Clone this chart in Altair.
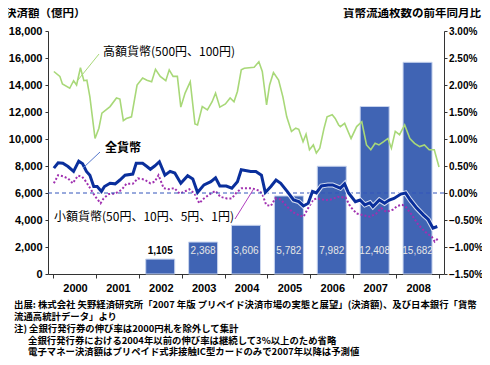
import altair as alt
import pandas as pd

# ---------------- data ----------------
years = [2002, 2003, 2004, 2005, 2006, 2007, 2008]
settlement = [1105, 2368, 3606, 5782, 7982, 12408, 15682]  # 決済額(億円)

high_t = [2000.02, 2000.16, 2000.22, 2000.39, 2000.48, 2000.55, 2000.64, 2000.72, 2000.79, 2000.86,
          2000.98, 2001.07, 2001.14, 2001.33, 2001.48, 2001.56, 2001.64, 2001.71, 2001.83, 2001.96,
          2002.09, 2002.19, 2002.30, 2002.39, 2002.50, 2002.63, 2002.71, 2002.80, 2002.90, 2002.98,
          2003.08, 2003.20, 2003.31, 2003.37, 2003.48, 2003.60, 2003.71, 2003.79, 2003.89, 2004.02,
          2004.13, 2004.22, 2004.30, 2004.39, 2004.46, 2004.69, 2004.80, 2004.88, 2004.98, 2005.05,
          2005.14, 2005.26, 2005.36, 2005.45, 2005.56, 2005.66, 2005.73, 2005.83, 2005.90, 2005.98,
          2006.07, 2006.14, 2006.22, 2006.32, 2006.39, 2006.51, 2006.58, 2006.66, 2006.70, 2006.80,
          2006.95, 2007.08, 2007.20, 2007.31, 2007.41, 2007.51, 2007.60, 2007.71, 2007.81, 2007.89,
          2007.98, 2008.08, 2008.20, 2008.32, 2008.43, 2008.55, 2008.66, 2008.77, 2008.89, 2009.00]
high_v = [2.25, 2.16, 2.02, 1.94, 2.08, 2.00, 2.32, 2.08, 2.09, 1.78,
          1.01, 1.20, 1.48, 1.60, 1.76, 1.74, 1.34, 1.38, 1.41, 2.00,
          2.13, 2.09, 2.06, 2.29, 2.16, 2.08, 2.28, 2.16, 2.16, 1.59,
          1.85, 2.06, 1.28, 1.26, 1.60, 1.54, 1.69, 1.85, 1.59, 1.65,
          1.76, 1.69, 1.88, 2.28, 2.31, 2.33, 2.43, 2.25, 1.63, 2.00,
          2.23, 2.09, 1.78, 1.41, 1.14, 1.20, 1.18, 0.95, 1.09, 0.80,
          0.89, 0.74, 0.83, 1.20, 1.41, 1.45, 1.38, 1.26, 1.23, 1.29,
          1.01, 1.23, 1.32, 0.89, 0.80, 0.92, 0.89, 0.95, 1.01, 0.83,
          1.14, 1.08, 1.26, 1.01, 0.92, 0.86, 0.89, 0.80, 0.80, 0.48]

all_t = [2000.02, 2000.12, 2000.23, 2000.35, 2000.48, 2000.60, 2000.69, 2000.78, 2000.86, 2000.95,
         2001.03, 2001.13, 2001.20, 2001.33, 2001.45, 2001.56, 2001.68, 2001.86, 2001.94, 2002.09,
         2002.19, 2002.27, 2002.37, 2002.48, 2002.61, 2002.73, 2002.84, 2002.98, 2003.14, 2003.26,
         2003.37, 2003.52, 2003.68, 2003.79, 2003.89, 2004.04, 2004.17, 2004.30, 2004.39, 2004.61,
         2004.73, 2004.86, 2004.95, 2005.08, 2005.20, 2005.31, 2005.46, 2005.61, 2005.73, 2005.84,
         2005.95, 2006.05, 2006.14, 2006.26, 2006.41, 2006.52, 2006.64, 2006.70, 2006.80, 2006.89,
         2007.05, 2007.16, 2007.27, 2007.39, 2007.46, 2007.61, 2007.73, 2007.84, 2007.95, 2008.11,
         2008.22, 2008.33, 2008.48, 2008.64, 2008.75, 2008.86, 2008.96]
all_v = [0.46, 0.56, 0.55, 0.49, 0.40, 0.59, 0.54, 0.40, 0.33, 0.12,
         0.12, 0.03, 0.12, 0.18, 0.17, 0.24, 0.33, 0.35, 0.55, 0.55,
         0.49, 0.44, 0.50, 0.58, 0.33, 0.40, 0.37, 0.18, 0.32, 0.26,
         0.01, 0.15, 0.21, 0.28, 0.13, 0.13, 0.09, 0.21, 0.43, 0.40,
         0.40, 0.33, 0.01, 0.12, 0.24, 0.18, 0.03, -0.13, -0.16, -0.24,
         -0.19, 0.03, 0.00, 0.13, 0.15, 0.15, 0.11, 0.09, 0.17, 0.00,
         -0.16, -0.13, -0.22, -0.18, -0.25, -0.13, -0.19, -0.13, -0.10, -0.02,
         0.00, -0.13, -0.28, -0.41, -0.49, -0.65, -0.62]

small_t = [2000.02, 2000.12, 2000.23, 2000.35, 2000.46, 2000.58, 2000.68, 2000.77, 2000.88, 2000.99,
           2001.11, 2001.18, 2001.30, 2001.45, 2001.60, 2001.71, 2001.86, 2001.98, 2002.13, 2002.27,
           2002.37, 2002.46, 2002.58, 2002.69, 2002.83, 2002.95, 2003.05, 2003.18, 2003.30, 2003.41,
           2003.52, 2003.68, 2003.79, 2003.90, 2004.05, 2004.17, 2004.28, 2004.40, 2004.63, 2004.82,
           2004.89, 2004.97, 2005.08, 2005.18, 2005.31, 2005.42, 2005.58, 2005.73, 2005.84, 2005.95,
           2006.07, 2006.18, 2006.33, 2006.48, 2006.64, 2006.70, 2006.82, 2006.93, 2007.08, 2007.23,
           2007.39, 2007.54, 2007.65, 2007.77, 2007.92, 2008.03, 2008.14, 2008.22, 2008.37, 2008.52,
           2008.68, 2008.83, 2008.90, 2008.98]
small_v = [0.18, 0.33, 0.31, 0.27, 0.18, 0.32, 0.30, 0.21, 0.07, -0.07,
           -0.19, -0.10, -0.02, -0.01, 0.06, 0.17, 0.17, 0.27, 0.25, 0.18,
           0.21, 0.33, 0.09, 0.07, 0.09, -0.01, 0.02, 0.07, -0.01, -0.19,
           -0.10, -0.01, 0.04, -0.07, -0.10, -0.10, 0.01, 0.09, 0.09, 0.04,
           -0.04, -0.22, -0.24, -0.10, -0.12, -0.22, -0.35, -0.41, -0.44, -0.28,
           -0.12, -0.10, -0.13, -0.12, -0.07, -0.08, -0.08, -0.25, -0.38, -0.41,
           -0.44, -0.38, -0.28, -0.35, -0.31, -0.24, -0.22, -0.25, -0.41, -0.59,
           -0.72, -0.81, -0.90, -0.84]

year_ticks = list(range(2000, 2010))
left_ticks = list(range(0, 18001, 2000))
right_ticks = [-1.5, -1.0, -0.5, 0.0, 0.5, 1.0, 1.5, 2.0, 2.5, 3.0]

title_left = "決済額（億円）"
title_right = "貨幣流通枚数の前年同月比"
ann_high = "高額貨幣(500円、100円)"
ann_all = "全貨幣"
ann_small = "小額貨幣(50円、10円、5円、1円)"
notes = [
    "出展: 株式会社 矢野経済研究所「2007 年版 プリペイド決済市場の実態と展望」(決済額)、及び日本銀行「貨幣",
    "流通高統計データ」より",
    "注) 全銀行発行券の伸び率は2000円札を除外して集計",
    "全銀行発行券における2004年以前の伸び率は継続して3%以上のため省略",
    "電子マネー決済額はプリペイド式非接触IC型カードのみで2007年以降は予測値",
]

# ---------------- chart ----------------
JP = "Noto Sans CJK JP"
NUM = "Liberation Sans"

X_SCALE = alt.Scale(domain=[2000, 2009], nice=False, zero=False)
LEFT = alt.Scale(domain=[0, 18000], nice=False, zero=False)
RIGHT = alt.Scale(domain=[-1.5, 3.0], nice=False, zero=False)

bars_df = pd.DataFrame({"year": years, "amount": settlement})
bars_df["xc"] = bars_df["year"] + 0.5
bars_df["label"] = [f"{v:,}" for v in settlement]

high_df = pd.DataFrame({"t": high_t, "v": high_v})
all_df = pd.DataFrame({"t": all_t, "v": all_v})
small_df = pd.DataFrame({"t": small_t, "v": small_v})

x_axis = alt.Axis(values=year_ticks, labelExpr="datum.value >= 2009 ? '' : '' + datum.value",
                  labelOffset=22, tickSize=4, labelPadding=4, labelFont=NUM, labelFontSize=11,
                  labelFontWeight="bold", labelColor="black", domainColor="#333", tickColor="#333",
                  grid=False, title=None, labelFlush=False, labelOverlap=False, labelBound=False)
left_axis = alt.Axis(values=left_ticks, labelExpr="format(datum.value, ',')", orient="left",
                     tickSize=3, labelPadding=3, labelOverlap=False,
                     labelFont=NUM, labelFontSize=11, labelFontWeight="bold", labelColor="black",
                     domainColor="#333", tickColor="#333", grid=False, title=None)
right_axis = alt.Axis(values=right_ticks, labelExpr="format(datum.value, '.2f') + '%'", orient="right",
                      tickSize=3, labelPadding=1.5, labelOverlap=False, labelFont=NUM, labelFontSize=10,
                      labelFontWeight="bold", labelColor="black", domainColor="#333", tickColor="#333",
                      grid=False, title=None)

X_T = alt.X("t:Q", scale=X_SCALE, axis=x_axis)
Y_V = alt.Y("v:Q", scale=RIGHT, axis=right_axis)

one = pd.DataFrame({"a": [0]})


def label(txt, x, y, size=12, weight="normal", align="left", color="black", font=JP):
    return alt.Chart(one).mark_text(text=txt, align=align, baseline="middle", fontSize=size,
                                    fontWeight=weight, color=color, font=font).encode(
        x=alt.value(x), y=alt.value(y))


def leader(x1, y1, x2, y2, color):
    return alt.Chart(one).mark_rule(color=color, strokeWidth=1).encode(
        x=alt.value(x1), y=alt.value(y1), x2=alt.value(x2), y2=alt.value(y2))


bars = alt.Chart(bars_df).mark_bar(size=29, color="#4064B4", stroke="#C8D4EE", strokeWidth=1).encode(
    x=alt.X("xc:Q", scale=X_SCALE, axis=x_axis),
    y=alt.Y("amount:Q", scale=LEFT, axis=left_axis),
)
LABEL_LEVEL = 1700
label_base = alt.Chart(bars_df).encode(
    x=alt.X("xc:Q", scale=X_SCALE, axis=x_axis),
    y=alt.Y(datum=LABEL_LEVEL, type="quantitative", scale=LEFT, axis=left_axis),
    text="label:N",
)
labels_out = label_base.transform_filter(f"datum.amount < {LABEL_LEVEL}").mark_text(
    font=NUM, fontSize=10, fontWeight="bold", color="black", baseline="middle")
labels_in = label_base.transform_filter(f"datum.amount >= {LABEL_LEVEL}").mark_text(
    font=NUM, fontSize=10, color="#E6E6E6", baseline="middle")

left_layer = alt.layer(bars, labels_out, labels_in)

small_line = alt.Chart(small_df).mark_line(color="#A030B0", strokeWidth=2, strokeDash=[2, 2]).encode(
    x=X_T, y=Y_V)
zero_rule = alt.Chart(one).mark_rule(color="#3355BB", strokeDash=[4, 3], strokeWidth=1).encode(
    y=alt.Y(datum=0, type="quantitative", scale=RIGHT, axis=right_axis))
all_halo = alt.Chart(all_df).mark_line(color="white", strokeWidth=5, opacity=0.8).encode(x=X_T, y=Y_V)
all_line = alt.Chart(all_df).mark_line(color="#0A2F9C", strokeWidth=3).encode(x=X_T, y=Y_V)
high_line = alt.Chart(high_df).mark_line(color="#A8D878", strokeWidth=1.6).encode(x=X_T, y=Y_V)

right_layer = alt.layer(small_line, zero_rule, all_halo, all_line, high_line)

annotations = alt.layer(
    leader(30, 49, 51, 23, "#A8D878"),
    leader(35, 137, 52, 121, "#5577CC"),
    leader(187, 188, 205, 159, "#B040C0"),
    label(ann_high, 55, 21, size=12),
    label(ann_all, 57, 117, size=12, weight="bold"),
    label(ann_small, 6, 186, size=12),
    label(title_left, -43, -17, size=11.5, weight="bold"),
    label(title_right, 433, -17, size=11.5, weight="bold", align="right"),
    label(notes[0], -34, 274, size=9.4, weight="bold"),
    label(notes[1], -34, 286, size=9.4, weight="bold"),
    label(notes[2], -34, 298, size=9.4, weight="bold"),
    label(notes[3], -20, 310, size=9.4, weight="bold"),
    label(notes[4], -20, 321, size=9.4, weight="bold"),
)

chart = alt.layer(left_layer, right_layer, annotations).resolve_scale(y="independent").properties(
    width=396, height=243,
    autosize=alt.AutoSizeParams(type="none"),
    padding={"left": 40, "top": 23, "right": 38, "bottom": 83},
    background="white",
).configure_view(stroke=None)

chart.save("out.html", embed_options={"renderer": "svg", "actions": False})
